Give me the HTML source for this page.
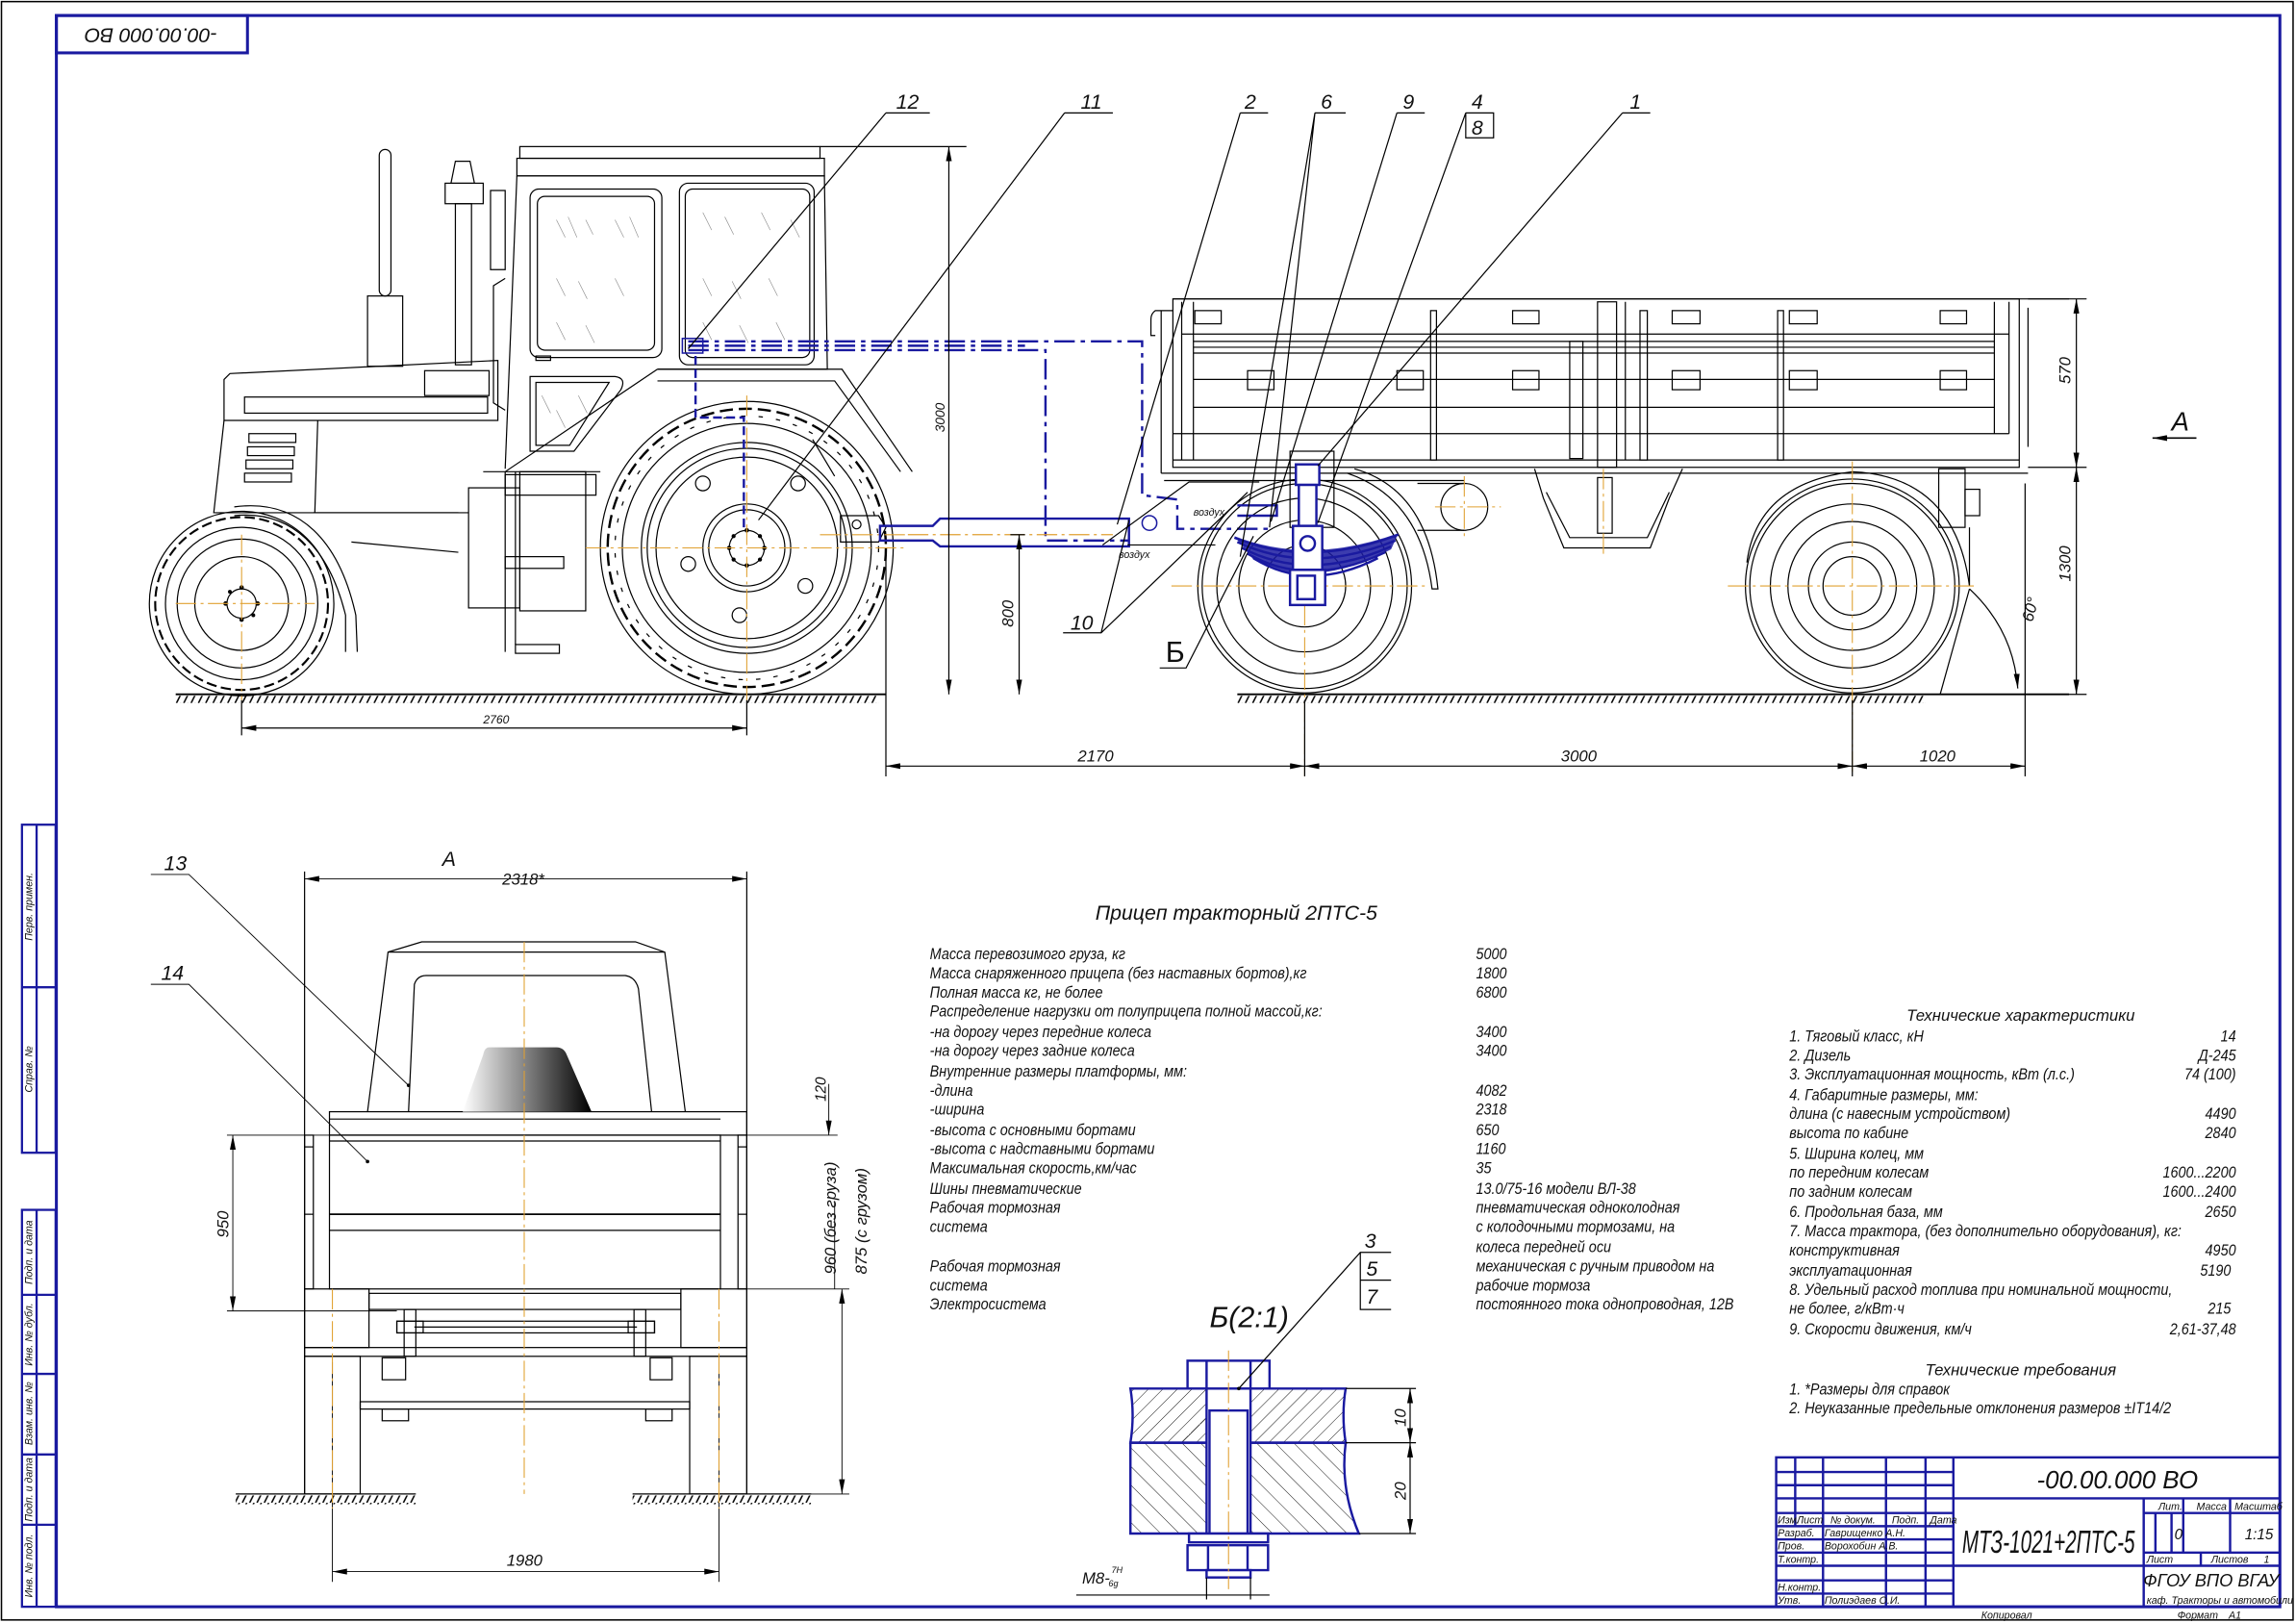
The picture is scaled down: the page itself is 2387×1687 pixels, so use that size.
<!DOCTYPE html>
<html><head><meta charset="utf-8"><style>
html,body{margin:0;padding:0;background:#fff}
svg{display:block}
text{font-family:"Liberation Sans","DejaVu Sans",sans-serif;font-style:italic;fill:#111}
.b{stroke:#1a1aa0;fill:none}
.k{stroke:#000;fill:none;stroke-width:0.8}
.o{stroke:#e0a030;fill:none;stroke-width:0.7;stroke-dasharray:14 3 2 3}
</style></head><body>
<svg width="2387" height="1687" viewBox="0 0 1568 1108" xmlns="http://www.w3.org/2000/svg">
<defs>
<pattern id="gh" width="5" height="6" patternUnits="userSpaceOnUse"><line x1="0.5" y1="6" x2="3.5" y2="0" stroke="#000" stroke-width="1"/></pattern>
<pattern id="h1" width="7" height="7" patternUnits="userSpaceOnUse" patternTransform="rotate(45)"><line x1="0" y1="0" x2="0" y2="7" stroke="#000" stroke-width="0.6"/></pattern>
<pattern id="h2" width="9" height="9" patternUnits="userSpaceOnUse" patternTransform="rotate(-45)"><line x1="0" y1="0" x2="0" y2="9" stroke="#000" stroke-width="0.6"/></pattern>
<linearGradient id="gr" x1="0" x2="1"><stop offset="0" stop-color="#fff"/><stop offset="1" stop-color="#000"/></linearGradient>
<marker id="ar" viewBox="0 0 10 4" refX="10" refY="2" markerWidth="10" markerHeight="4" orient="auto-start-reverse" markerUnits="userSpaceOnUse"><path d="M0,0L10,2L0,4z" fill="#000"/></marker>
</defs>
<rect x="0" y="0" width="1568" height="1108" fill="#fff"/>
<rect x="1" y="1" width="1565" height="1105" fill="none" stroke="#000" stroke-width="1"/>
<rect x="38.5" y="10.5" width="1518.5" height="1086.5" fill="none" stroke="#1a1aa0" stroke-width="2"/>
<rect x="38.5" y="10.5" width="130.5" height="25.5" fill="none" stroke="#1a1aa0" stroke-width="2"/>
<text transform="translate(103,23) rotate(180)" font-size="14" text-anchor="middle" dominant-baseline="middle">-00.00.000 ВО</text>
<g stroke="#1a1aa0" stroke-width="1.5" fill="none">
<rect x="15" y="563" width="23" height="224"/><line x1="25" y1="563" x2="25" y2="787"/><line x1="15" y1="674" x2="38" y2="674"/>
<rect x="15" y="826" width="23" height="271"/><line x1="25" y1="826" x2="25" y2="1097"/>
<line x1="15" y1="884" x2="38" y2="884"/><line x1="15" y1="938" x2="38" y2="938"/><line x1="15" y1="993" x2="38" y2="993"/><line x1="15" y1="1041" x2="38" y2="1041"/>
</g>
<g font-size="7">
<text transform="translate(22,619) rotate(-90)" text-anchor="middle">Перв. примен.</text>
<text transform="translate(22,730) rotate(-90)" text-anchor="middle">Справ. №</text>
<text transform="translate(22,855) rotate(-90)" text-anchor="middle">Подп. и дата</text>
<text transform="translate(22,911) rotate(-90)" text-anchor="middle">Инв. № дубл.</text>
<text transform="translate(22,965) rotate(-90)" text-anchor="middle">Взам. инв. №</text>
<text transform="translate(22,1017) rotate(-90)" text-anchor="middle">Подп. и дата</text>
<text transform="translate(22,1069) rotate(-90)" text-anchor="middle">Инв. № подл.</text>
</g>

<g class="k">
<line x1="120" y1="474" x2="605" y2="474" stroke-width="1.2"/>
<rect x="120" y="475" width="480" height="5" fill="url(#gh)" stroke="none"/>
<rect x="259" y="102" width="8" height="100" rx="4"/>
<rect x="251" y="202" width="24" height="48"/>
<path d="M311,110 L321,110 L324,125 L308,125 Z"/><rect x="304" y="125" width="26" height="14"/><rect x="311" y="139" width="11" height="110"/>
<path d="M153,259 L157,255 L340,246 L340,287 L153,287 Z"/>
<rect x="167" y="271" width="166" height="11"/>
<rect x="290" y="253" width="44" height="17"/>
<path d="M153,287 L146,350 L215,350 L217,287"/>
<rect x="170" y="296" width="32" height="6"/><rect x="169" y="305" width="32" height="6"/><rect x="168" y="314" width="32" height="6"/><rect x="167" y="323" width="32" height="6"/>
<line x1="215" y1="350" x2="313" y2="350"/><line x1="240" y1="370" x2="313" y2="377"/>
<path d="M160,346 C205,340 232,370 243,420 L244,445" stroke-width="0.8"/>
<path d="M160,352 C200,348 225,375 236,420 L236,445"/>
<circle cx="165" cy="412" r="63"/><circle cx="165" cy="412" r="59" stroke-dasharray="7 3" stroke-width="1.4"/><circle cx="165" cy="412" r="52"/>
<circle cx="165" cy="412" r="44"/><circle cx="165" cy="412" r="32"/><circle cx="165" cy="412" r="10"/>
<rect x="355" y="100" width="205" height="8"/>
<rect x="353" y="108" width="210" height="12"/>
<path d="M353,120 L563,120 L565,252 L449,252"/>
<line x1="353" y1="120" x2="345" y2="320"/>
<rect x="362" y="129" width="90" height="115" rx="6"/><rect x="367" y="134" width="80" height="105" rx="5"/>
<rect x="464" y="125" width="92" height="124" rx="6"/><rect x="468" y="129" width="85" height="115" rx="5"/>
<path d="M362,257 L420,257 Q428,258 424,266 L392,308 L362,308 Z"/><path d="M366,261 L416,261 L389,304 L366,304 Z"/>
<rect x="366" y="243" width="10" height="3"/>
<path d="M335,130 L345,130 L345,184 L335,184 Z"/><path d="M345,190 L337,195 L337,275 L345,280"/>
<path d="M449,252 L345,322 L330,322"/>
<line x1="345" y1="322" x2="410" y2="322"/>
<path d="M449,252 L575,252 L623,322"/><path d="M449,260 L570,260 L615,322"/>
<path d="M555,300 L570,325"/>
<rect x="320" y="333" width="35" height="82"/><rect x="355" y="322" width="45" height="95"/>
<line x1="214" y1="350" x2="320" y2="350"/>
<rect x="345" y="324" width="62" height="14"/><rect x="345" y="380" width="40" height="8"/>
<line x1="345" y1="322" x2="345" y2="445"/><line x1="352" y1="322" x2="352" y2="440"/><rect x="352" y="440" width="30" height="6"/>
<circle cx="510" cy="374" r="100"/><circle cx="510" cy="374" r="95" stroke-dasharray="9 4" stroke-width="1.6"/><circle cx="510" cy="374" r="90" stroke-dasharray="3 9"/><circle cx="510" cy="374" r="85"/>
<circle cx="510" cy="374" r="72"/><circle cx="510" cy="374" r="68"/><circle cx="510" cy="374" r="62"/>
<circle cx="510" cy="374" r="30"/><circle cx="510" cy="374" r="26"/><circle cx="510" cy="374" r="12"/>
<circle cx="480" cy="330" r="5"/><circle cx="545" cy="330" r="5"/><circle cx="470" cy="385" r="5"/><circle cx="550" cy="400" r="5"/><circle cx="505" cy="420" r="5"/>
<path d="M574,352 L600,352 L605,360 L600,370 L574,370 Z"/><circle cx="585" cy="358" r="3"/>
</g>
<g fill="#000">
<circle cx="165" cy="401" r="1.5"/><circle cx="165" cy="423" r="1.5"/><circle cx="154" cy="412" r="1.5"/><circle cx="176" cy="412" r="1.5"/><circle cx="157" cy="404" r="1.3"/><circle cx="173" cy="420" r="1.3"/>
<circle cx="510" cy="362" r="1.5"/><circle cx="510" cy="386" r="1.5"/><circle cx="498" cy="374" r="1.5"/><circle cx="522" cy="374" r="1.5"/><circle cx="501" cy="366" r="1.4"/><circle cx="519" cy="382" r="1.4"/><circle cx="519" cy="366" r="1.4"/><circle cx="501" cy="382" r="1.4"/>
</g>
<g stroke="#888" stroke-width="0.4">
<path d="M380,150 l6,12 M388,148 l6,14 M400,150 l5,10 M420,150 l6,12 M430,148 l6,14 M380,190 l6,12 M395,192 l6,12 M420,190 l6,12 M380,220 l6,12 M400,222 l6,12 M480,145 l6,12 M495,148 l6,12 M520,145 l6,12 M540,150 l6,12 M480,190 l6,12 M500,192 l6,12 M525,190 l6,12 M480,220 l6,12 M505,222 l6,12 M530,220 l6,12 M370,270 l6,12 M380,280 l6,12 M395,270 l6,12"/>
</g>
<g class="o"><line x1="120" y1="412" x2="215" y2="412"/><line x1="165" y1="365" x2="165" y2="478"/><line x1="400" y1="374" x2="620" y2="374"/><line x1="510" y1="270" x2="510" y2="478"/><line x1="560" y1="365" x2="620" y2="365"/></g>

<g class="b" stroke-width="1.6">
<path d="M470,233 L780,233 L780,338 L804,341 L804,361 L867,361" stroke-dasharray="14 4 3 4"/>
<path d="M470,236 L700,236" stroke-dasharray="14 4 3 4"/>
<path d="M470,239 L714,239 L714,369 L771,369" stroke-dasharray="14 4 3 4"/>
<path d="M475,243 L475,285 L508,285 L508,360" stroke-dasharray="6 3"/>
<rect x="466" y="231" width="14" height="10" stroke-width="1"/>
<path d="M601,359 L637,359 L642,354 L771,354 L771,373 L642,373 L637,369 L601,369 Z"/>
</g>
<g class="b" stroke-width="1"><circle cx="785" cy="357" r="5"/></g>
<g class="k"><path d="M753,372 L812,329 L860,329 M770,372 L830,372" /><line x1="620" y1="365" x2="760" y2="365" stroke="#e0a030" stroke-dasharray="14 3 2 3"/></g>
<text x="764" y="381" font-size="7">воздух</text><text x="815" y="352" font-size="7">воздух</text>

<g class="k">
<line x1="845" y1="474" x2="1413" y2="474" stroke-width="1.2"/>
<rect x="845" y="475" width="470" height="5" fill="url(#gh)" stroke="none"/>
<line x1="801" y1="204" x2="1413" y2="204"/>
<rect x="801" y="204" width="578" height="115"/>
<line x1="793" y1="212" x2="793" y2="323"/><line x1="793" y1="323" x2="1385" y2="323"/>
<path d="M801,212 L789,212 Q786,214 786,218 L786,229 L789,229"/>
<g>
<line x1="807" y1="228" x2="1372" y2="228"/><line x1="815" y1="233" x2="1362" y2="233"/><line x1="815" y1="237" x2="1362" y2="237"/><line x1="815" y1="241" x2="1362" y2="241"/>
<line x1="815" y1="259" x2="1362" y2="259"/><line x1="815" y1="278" x2="1362" y2="278"/><line x1="801" y1="296" x2="1372" y2="296"/><line x1="801" y1="314" x2="1379" y2="314"/>
<line x1="807" y1="206" x2="807" y2="314"/><line x1="815" y1="206" x2="815" y2="314"/>
<rect x="977" y="212" width="4" height="102"/><rect x="1072" y="233" width="9" height="80"/><rect x="1091" y="206" width="13" height="113"/><line x1="1110" y1="206" x2="1110" y2="314"/><rect x="1120" y="212" width="5" height="102"/><rect x="1214" y="212" width="4" height="102"/>
<line x1="1362" y1="206" x2="1362" y2="296"/><line x1="1372" y1="206" x2="1372" y2="296"/><line x1="1385" y1="210" x2="1385" y2="305"/>
</g>
<g><rect x="816" y="212" width="18" height="9"/><rect x="1033" y="212" width="18" height="9"/><rect x="1142" y="212" width="19" height="9"/><rect x="1222" y="212" width="19" height="9"/><rect x="1325" y="212" width="18" height="9"/>
<rect x="852" y="253" width="18" height="13"/><rect x="954" y="253" width="18" height="13"/><rect x="1033" y="253" width="18" height="13"/><rect x="1142" y="253" width="19" height="13"/><rect x="1222" y="253" width="19" height="13"/><rect x="1325" y="253" width="18" height="13"/></g>
<line x1="795" y1="328" x2="940" y2="328"/><line x1="940" y1="328" x2="1000" y2="328"/>
<rect x="881" y="308" width="30" height="52"/>
<path d="M1048,320 L1054,340 L1068,374 L1127,374 L1140,340 L1149,320"/><path d="M1056,336 L1072,367 L1125,367 L1140,336"/>
<rect x="1091" y="326" width="10" height="38"/>
<circle cx="1000" cy="346" r="16"/><line x1="968" y1="330" x2="1000" y2="330"/><line x1="968" y1="362" x2="1000" y2="362"/>
<path d="M920,323 Q970,340 978,402 L982,402 Q975,334 925,320"/>
<circle cx="891" cy="400" r="73"/><circle cx="891" cy="400" r="70"/><circle cx="891" cy="400" r="60"/><circle cx="891" cy="400" r="45"/><circle cx="891" cy="400" r="28"/>
<circle cx="1265" cy="400" r="73"/><circle cx="1265" cy="400" r="70"/><circle cx="1265" cy="400" r="56"/><circle cx="1265" cy="400" r="44"/><circle cx="1265" cy="400" r="30"/><circle cx="1265" cy="400" r="20"/>
<path d="M1193,384 Q1200,330 1265,322 Q1335,325 1345,400"/>
<rect x="1324" y="320" width="18" height="40"/><rect x="1342" y="334" width="10" height="18"/><line x1="1345" y1="360" x2="1345" y2="400"/>
<line x1="1345" y1="402" x2="1325" y2="474"/><path d="M1345,402 Q1375,430 1378,470" marker-end="url(#ar)"/>
</g>
<g class="o"><line x1="800" y1="400" x2="975" y2="400"/><line x1="891" y1="325" x2="891" y2="530"/><line x1="1180" y1="400" x2="1350" y2="400"/><line x1="1265" y1="315" x2="1265" y2="530"/><line x1="1000" y1="325" x2="1000" y2="368"/><line x1="980" y1="346" x2="1025" y2="346"/><line x1="1095" y1="320" x2="1095" y2="380"/></g>
<path d="M843,366 Q894,386 955,364 L950,375 Q894,404 856,382 Z" fill="#1a1aa0" opacity="0.85"/>
<g class="b" stroke-width="1.6">
<path d="M843,367 Q894,388 955,365 M845,370 Q894,393 953,369 M848,374 Q894,398 950,373 M852,378 Q894,402 946,377 M856,381 Q894,405 941,381"/>
<rect x="885" y="317" width="16" height="14" fill="#fff"/><rect x="887" y="331" width="12" height="28" fill="#fff"/><rect x="883" y="359" width="20" height="30" fill="#fff"/><circle cx="893" cy="371" r="5"/>
<rect x="881" y="389" width="24" height="24" fill="#fff"/><rect x="886" y="393" width="12" height="16"/>
<path d="M845,345 L872,345 L872,352 L845,352"/>
</g>
<g class="k" stroke-width="0.7">
<path d="M605,77 L635,77 M605,77 L470,238"/>
<path d="M727,77 L760,77 M727,77 L518,355"/>
<path d="M847,77 L866,77 M847,77 L763,358"/>
<path d="M898,77 L919,77 M898,77 L867,360 M898,77 L847,380"/>
<path d="M954,77 L973,77 M954,77 L868,356"/>
<path d="M1001,77 L1020,77 L1020,94 L1001,94 L1001,77 M1001,77 L900,357"/>
<path d="M1108,77 L1127,77 M1108,77 L900,318"/>
<path d="M726,432 L752,432 L771,355 M752,432 L852,336"/>
<path d="M792,456 L810,456 L856,366"/>
</g>
<g font-size="14"><text x="612" y="74">12</text><text x="738" y="74">11</text><text x="850" y="74">2</text><text x="902" y="74">6</text><text x="958" y="74">9</text><text x="1005" y="74">4</text><text x="1005" y="92">8</text><text x="1113" y="74">1</text><text x="731" y="430">10</text></g>
<text x="796" y="452" font-size="20" style="font-style:normal">Б</text>
<line x1="1470" y1="299" x2="1500" y2="299" stroke="#000" stroke-width="1" marker-start="url(#ar)"/>
<text x="1483" y="294" font-size="18">А</text>

<g class="k" stroke-width="0.6">
<line x1="165" y1="478" x2="165" y2="502"/><line x1="510" y1="478" x2="510" y2="502"/>
<line x1="165" y1="497" x2="510" y2="497" marker-start="url(#ar)" marker-end="url(#ar)"/>
<line x1="605" y1="375" x2="605" y2="530"/><line x1="891" y1="478" x2="891" y2="530"/><line x1="1265" y1="478" x2="1265" y2="530"/><line x1="1383" y1="330" x2="1383" y2="530"/>
<line x1="605" y1="523" x2="891" y2="523" marker-start="url(#ar)" marker-end="url(#ar)"/>
<line x1="891" y1="523" x2="1265" y2="523" marker-start="url(#ar)" marker-end="url(#ar)"/>
<line x1="1265" y1="523" x2="1383" y2="523" marker-start="url(#ar)" marker-end="url(#ar)"/>
<line x1="560" y1="100" x2="660" y2="100"/>
<line x1="648" y1="100" x2="648" y2="474" marker-start="url(#ar)" marker-end="url(#ar)"/>
<line x1="690" y1="365" x2="700" y2="365"/><line x1="696" y1="365" x2="696" y2="474" marker-start="url(#ar)" marker-end="url(#ar)"/>
<line x1="1385" y1="204" x2="1425" y2="204"/><line x1="1385" y1="319" x2="1425" y2="319"/><line x1="1350" y1="474" x2="1425" y2="474"/>
<line x1="1418" y1="204" x2="1418" y2="319" marker-start="url(#ar)" marker-end="url(#ar)"/>
<line x1="1418" y1="319" x2="1418" y2="474" marker-start="url(#ar)" marker-end="url(#ar)"/>
</g>
<g font-size="11">
<text x="330" y="494" font-size="8">2760</text>
<text x="736" y="520">2170</text><text x="1066" y="520">3000</text><text x="1311" y="520">1020</text>
<text transform="translate(645,295) rotate(-90)" font-size="9">3000</text>
<text transform="translate(692,428) rotate(-90)">800</text>
<text transform="translate(1414,262) rotate(-90)">570</text>
<text transform="translate(1414,397) rotate(-90)">1300</text>
<text transform="translate(1388,425) rotate(-75)">60°</text>
</g>

<text x="302" y="591" font-size="14">А</text>
<g class="k">
<line x1="208" y1="600" x2="510" y2="600" marker-start="url(#ar)" marker-end="url(#ar)" stroke-width="0.6"/>
<line x1="208" y1="595" x2="208" y2="1020"/><line x1="510" y1="595" x2="510" y2="1020"/>
<path d="M251,759 L265,650 L288,643 L434,643 L454,650 L468,759"/><line x1="265" y1="650" x2="454" y2="650"/>
<path d="M279,759 L283,672 Q285,666 291,666 L427,666 Q434,667 436,675 L445,759"/>
<rect x="225" y="759" width="285" height="16"/><line x1="225" y1="764" x2="492" y2="764"/>
<rect x="225" y="775" width="267" height="105"/><line x1="225" y1="779" x2="492" y2="779"/><line x1="225" y1="829" x2="492" y2="829" stroke-width="1.2"/><line x1="225" y1="840" x2="492" y2="840"/>
<rect x="208" y="775" width="6" height="105"/><rect x="504" y="775" width="6" height="105"/>
<line x1="208" y1="783" x2="214" y2="783"/><line x1="208" y1="829" x2="214" y2="829"/><line x1="504" y1="783" x2="510" y2="783"/><line x1="504" y1="829" x2="510" y2="829"/>
<rect x="208" y="880" width="44" height="40"/><rect x="465" y="880" width="45" height="40"/>
<rect x="252" y="883" width="213" height="11"/>
<rect x="271" y="902" width="176" height="8"/><line x1="283" y1="906" x2="435" y2="906"/>
<rect x="271" y="902" width="18" height="8"/><rect x="429" y="902" width="18" height="8"/>
<rect x="276" y="894" width="8" height="32"/><rect x="433" y="894" width="8" height="32"/>
<rect x="208" y="920" width="302" height="6"/>
<rect x="208" y="926" width="38" height="94"/><rect x="471" y="926" width="39" height="94"/>
<rect x="261" y="927" width="16" height="15"/><rect x="444" y="927" width="15" height="15"/>
<rect x="246" y="957" width="225" height="5"/><rect x="261" y="962" width="18" height="8"/><rect x="441" y="962" width="18" height="8"/>
<line x1="161" y1="1020" x2="284" y2="1020"/><rect x="161" y="1021" width="123" height="6" fill="url(#gh)" stroke="none"/>
<line x1="432" y1="1020" x2="554" y2="1020"/><rect x="432" y="1021" width="122" height="6" fill="url(#gh)" stroke="none"/>
<line x1="155" y1="775" x2="225" y2="775" stroke-width="0.6"/><line x1="155" y1="895" x2="271" y2="895" stroke-width="0.6"/>
<line x1="159" y1="775" x2="159" y2="895" marker-start="url(#ar)" marker-end="url(#ar)" stroke-width="0.6"/>
<line x1="510" y1="775" x2="572" y2="775" stroke-width="0.6"/>
<line x1="566" y1="740" x2="566" y2="775" stroke-width="0.6" marker-end="url(#ar)"/>
<line x1="510" y1="880" x2="580" y2="880" stroke-width="0.6"/><line x1="510" y1="1020" x2="580" y2="1020" stroke-width="0.6"/>
<line x1="575" y1="880" x2="575" y2="1020" marker-start="url(#ar)" marker-end="url(#ar)" stroke-width="0.6"/>
<line x1="570" y1="820" x2="570" y2="880" stroke-width="0.6"/>
<line x1="227" y1="930" x2="227" y2="1080" stroke-width="0.6"/><line x1="491" y1="930" x2="491" y2="1080" stroke-width="0.6"/>
<line x1="227" y1="1073" x2="491" y2="1073" marker-start="url(#ar)" marker-end="url(#ar)" stroke-width="0.6"/>
<path d="M103,597 L129,597 L279,741" stroke-width="0.6"/><path d="M103,672 L129,672 L251,793" stroke-width="0.6"/>
</g>
<path d="M334,715 L380,715 Q385,715 387,720 L404,759 L316,759 L330,720 Q331,715 334,715 Z" fill="url(#gr)"/>
<circle cx="279" cy="741" r="1.2"/><circle cx="251" cy="793" r="1.2"/>
<g class="o"><line x1="358" y1="643" x2="358" y2="1020"/><line x1="227" y1="880" x2="227" y2="1030"/><line x1="491" y1="880" x2="491" y2="1030"/></g>
<g font-size="11">
<text x="343" y="604">2318*</text>
<text x="112" y="594" font-size="14">13</text><text x="110" y="669" font-size="14">14</text>
<text transform="translate(156,845) rotate(-90)">950</text>
<text transform="translate(564,752) rotate(-90)" font-size="10">120</text>
<text transform="translate(571,870) rotate(-90)">960 (без груза)</text>
<text transform="translate(592,870) rotate(-90)">875 (с грузом)</text>
<text x="346" y="1069">1980</text>
</g>

<text x="826" y="906" font-size="20">Б(2:1)</text>
<g stroke="#1a1aa0" stroke-width="1.6">
<path d="M772,948 L919,948 Q916,966 919,985 L772,985 Q775,966 772,948 Z" fill="url(#h1)"/>
<path d="M772,985 L919,985 Q915,1016 928,1047 L772,1047 Z" fill="url(#h2)"/>
<rect x="824" y="948" width="30" height="99" fill="#fff"/>
<rect x="826" y="963" width="26" height="84" fill="#fff"/>
<rect x="811" y="929" width="56" height="19" fill="#fff"/><line x1="824" y1="929" x2="824" y2="948"/><line x1="854" y1="929" x2="854" y2="948"/>
<rect x="812" y="1047" width="54" height="6" fill="#fff"/>
<path d="M811,1055 L866,1055 L866,1072 L811,1072 Z" fill="#fff"/><line x1="825" y1="1055" x2="825" y2="1072"/><line x1="852" y1="1055" x2="852" y2="1072"/>
<rect x="824" y="1072" width="30" height="5" fill="#fff"/>
</g>
<g class="k" stroke-width="0.6">
<line x1="919" y1="948" x2="967" y2="948"/><line x1="919" y1="985" x2="967" y2="985"/><line x1="928" y1="1047" x2="967" y2="1047"/>
<line x1="963" y1="948" x2="963" y2="985" marker-start="url(#ar)" marker-end="url(#ar)"/>
<line x1="963" y1="985" x2="963" y2="1047" marker-start="url(#ar)" marker-end="url(#ar)"/>
<path d="M846,948 L929,855 L950,855 M929,855 L929,894 L950,894 M929,874 L950,874"/>
<line x1="735" y1="1089" x2="867" y2="1089"/><line x1="824" y1="1077" x2="824" y2="1092"/><line x1="854" y1="1077" x2="854" y2="1092"/>
</g>
<circle cx="846" cy="948" r="1.2"/>
<line x1="839" y1="922" x2="839" y2="1085" class="o"/>
<g font-size="14"><text x="932" y="852">3</text><text x="933" y="871">5</text><text x="933" y="890">7</text></g>
<text transform="translate(960,974) rotate(-90)" font-size="11">10</text>
<text transform="translate(960,1024) rotate(-90)" font-size="11">20</text>
<text x="739" y="1081" font-size="11">М8-</text><text x="759" y="1074" font-size="6">7H</text><text x="757" y="1083" font-size="6">6g</text>

<text x="748" y="628" font-size="14">Прицеп тракторный 2ПТС-5</text>
<g transform="translate(635,0) scale(0.86,1)" font-size="11">
<text x="0" y="655">Масса перевозимого груза, кг</text>
<text x="0" y="668">Масса снаряженного прицепа (без наставных бортов),кг</text>
<text x="0" y="681">Полная масса кг, не более</text>
<text x="0" y="694">Распределение нагрузки от полуприцепа полной массой,кг:</text>
<text x="0" y="708">-на дорогу через передние колеса</text>
<text x="0" y="721">-на дорогу через задние колеса</text>
<text x="0" y="735">Внутренние размеры платформы, мм:</text>
<text x="0" y="748">-длина</text>
<text x="0" y="761">-ширина</text>
<text x="0" y="775">-высота с основными бортами</text>
<text x="0" y="788">-высота с надставными бортами</text>
<text x="0" y="801">Максимальная скорость,км/час</text>
<text x="0" y="815">Шины пневматические</text>
<text x="0" y="828">Рабочая тормозная</text>
<text x="0" y="841">система</text>
<text x="0" y="868">Рабочая тормозная</text>
<text x="0" y="881">система</text>
<text x="0" y="894">Электросистема</text>
</g>
<g transform="translate(1008,0) scale(0.86,1)" font-size="11">
<text x="0" y="655">5000</text><text x="0" y="668">1800</text><text x="0" y="681">6800</text>
<text x="0" y="708">3400</text><text x="0" y="721">3400</text>
<text x="0" y="748">4082</text><text x="0" y="761">2318</text><text x="0" y="775">650</text><text x="0" y="788">1160</text><text x="0" y="801">35</text>
<text x="0" y="815">13.0/75-16 модели ВЛ-38</text>
<text x="0" y="828">пневматическая одноколодная</text>
<text x="0" y="841">с колодочными тормозами, на</text>
<text x="0" y="855">колеса передней оси</text>
<text x="0" y="868">механическая с ручным приводом на</text>
<text x="0" y="881">рабочие тормоза</text>
<text x="0" y="894">постоянного тока однопроводная, 12В</text>
</g>
<text x="1380" y="697" font-size="11" text-anchor="middle">Технические характеристики</text>
<g transform="translate(1222,0) scale(0.86,1)" font-size="11">
<text x="0" y="711">1. Тяговый класс, кН</text>
<text x="0" y="724">2. Дизель</text>
<text x="0" y="737">3. Эксплуатационная мощность, кВт (л.с.)</text>
<text x="0" y="751">4. Габаритные размеры, мм:</text>
<text x="0" y="764">длина (с навесным устройством)</text>
<text x="0" y="777">высота по кабине</text>
<text x="0" y="791">5. Ширина колец, мм</text>
<text x="0" y="804">по передним колесам</text>
<text x="0" y="817">по задним колесам</text>
<text x="0" y="831">6. Продольная база, мм</text>
<text x="0" y="844">7. Масса трактора, (без дополнительно оборудования), кг:</text>
<text x="0" y="857">конструктивная</text>
<text x="0" y="871">эксплуатационная</text>
<text x="0" y="884">8. Удельный расход топлива при номинальной мощности,</text>
<text x="0" y="897">не более, г/кВт·ч</text>
<text x="0" y="911">9. Скорости движения, км/ч</text>
</g>
<g transform="translate(1527,0) scale(0.86,1)" font-size="11" text-anchor="end">
<text x="0" y="711">14</text><text x="0" y="724">Д-245</text><text x="0" y="737">74 (100)</text>
<text x="0" y="764">4490</text><text x="0" y="777">2840</text>
<text x="0" y="804">1600...2200</text><text x="0" y="817">1600...2400</text><text x="0" y="831">2650</text>
<text x="0" y="857">4950</text><text x="-4" y="871">5190</text><text x="-4" y="897">215</text><text x="0" y="911">2,61-37,48</text>
</g>
<text x="1380" y="939" font-size="11" text-anchor="middle">Технические требования</text>
<g transform="translate(1222,0) scale(0.86,1)" font-size="11">
<text x="0" y="952">1. *Размеры для справок</text>
<text x="0" y="965">2. Неуказанные предельные отклонения размеров  ±IT14/2</text>
</g>

<g stroke="#1a1aa0" stroke-width="1.6" fill="none">
<rect x="1213" y="995" width="344" height="102"/>
<line x1="1226" y1="995" x2="1226" y2="1042"/>
<line x1="1245" y1="995" x2="1245" y2="1097"/><line x1="1288" y1="995" x2="1288" y2="1097"/><line x1="1315" y1="995" x2="1315" y2="1097"/><line x1="1334" y1="995" x2="1334" y2="1097"/>
<line x1="1213" y1="1005" x2="1334" y2="1005"/><line x1="1213" y1="1014" x2="1334" y2="1014"/><line x1="1213" y1="1023" x2="1557" y2="1023"/><line x1="1213" y1="1033" x2="1334" y2="1033"/>
<line x1="1213" y1="1042" x2="1334" y2="1042"/><line x1="1213" y1="1051" x2="1334" y2="1051"/><line x1="1213" y1="1060" x2="1334" y2="1060"/><line x1="1213" y1="1069" x2="1557" y2="1069"/><line x1="1213" y1="1079" x2="1334" y2="1079"/><line x1="1213" y1="1088" x2="1334" y2="1088"/>
<line x1="1464" y1="1023" x2="1464" y2="1097"/><line x1="1464" y1="1033" x2="1557" y2="1033"/><line x1="1464" y1="1060" x2="1557" y2="1060"/>
<line x1="1472" y1="1033" x2="1472" y2="1060"/><line x1="1483" y1="1033" x2="1483" y2="1060"/><line x1="1491" y1="1023" x2="1491" y2="1060"/><line x1="1523" y1="1023" x2="1523" y2="1060"/><line x1="1503" y1="1060" x2="1503" y2="1069"/>
</g>
<g font-size="7">
<text x="1214" y="1040">Изм.</text><text x="1227" y="1040">Лист</text><text x="1250" y="1040">№ докум.</text><text x="1292" y="1040">Подп.</text><text x="1318" y="1040">Дата</text>
<text x="1214" y="1049">Разраб.</text><text x="1246" y="1049">Гаврищенко А.Н.</text>
<text x="1214" y="1058">Пров.</text><text x="1246" y="1058">Ворохобин А.В.</text>
<text x="1214" y="1067">Т.контр.</text>
<text x="1214" y="1086">Н.контр.</text>
<text x="1214" y="1095">Утв.</text><text x="1246" y="1095">Полиэдаев О.И.</text>
<text x="1474" y="1031">Лит.</text><text x="1500" y="1031">Масса</text><text x="1526" y="1031">Масштаб</text>
<text x="1466" y="1067">Лист</text><text x="1510" y="1067">Листов</text><text x="1546" y="1067">1</text>
<text x="1466" y="1095">каф. Тракторы и автомобили</text>
<text x="1353" y="1105">Копировал</text><text x="1487" y="1105">Формат</text><text x="1522" y="1105">А1</text>
</g>
<text x="1446" y="1016" font-size="17" text-anchor="middle">-00.00.000 ВО</text>
<text x="1340" y="1060" font-size="22" textLength="118" lengthAdjust="spacingAndGlyphs">МТЗ-1021+2ПТС-5</text>
<text x="1485" y="1051" font-size="10">0</text><text x="1533" y="1051" font-size="10">1:15</text>
<text x="1510" y="1083" font-size="12" text-anchor="middle">ФГОУ ВПО ВГАУ</text>
</svg>
</body></html>
